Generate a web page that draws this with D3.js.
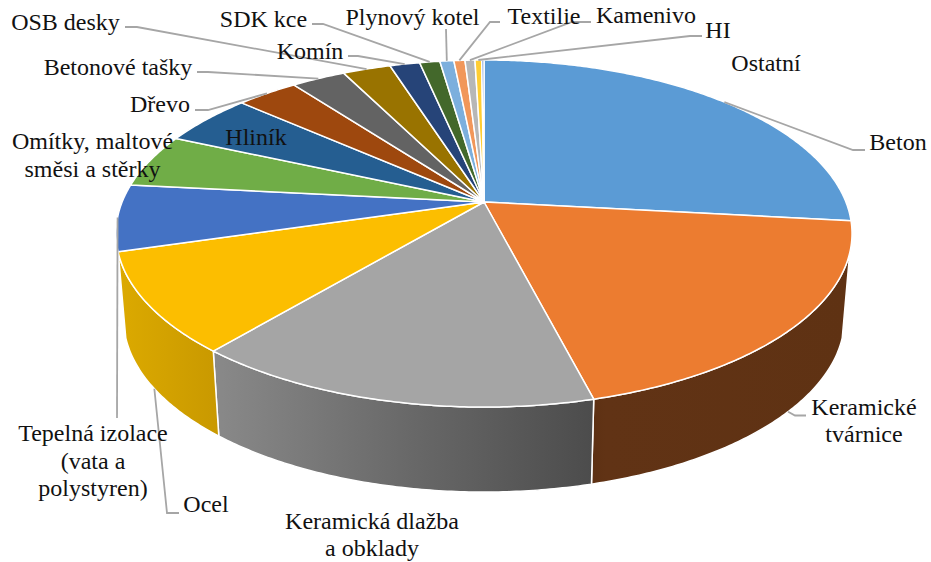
<!DOCTYPE html>
<html>
<head>
<meta charset="utf-8">
<script src="https://cdnjs.cloudflare.com/ajax/libs/d3/7.8.5/d3.min.js"></script>
<style>
    html, body { margin: 0; padding: 0; background: #fff; }
    text { font-family: "Liberation Serif", serif; font-size: 24px; fill: #111; }
</style>
</head>
<body>
<div id="chart"></div>
<script>
var categories = ['Beton', 'Keramické tvárnice', 'Keramická dlažba a obklady', 'Ocel',
    'Tepelná izolace (vata a polystyren)', 'Omítky, maltové směsi a stěrky', 'Hliník', 'Dřevo',
    'Betonové tašky', 'OSB desky', 'Komín', 'SDK kce', 'Plynový kotel', 'Textilie', 'Kamenivo', 'HI', 'Ostatní'];
var values = [26.74, 19.24, 15.16, 9.33, 6.18, 5.01, 4.84, 3.22, 2.84, 2.51, 1.57, 1.06, 0.73, 0.58, 0.52, 0.35, 0.12];
var colors = ['#5b9bd5', '#ec7c30', '#a5a5a5', '#fcbe00', '#4472c4', '#70ad47', '#255e91', '#9e480e',
    '#636363', '#997300', '#264478', '#43682b', '#7cafdd', '#f1975a', '#b7b7b7', '#ffcd33', '#698ed0'];

// label lines, text centre x and baseline y, then the elbow of the leader line
var labelLayout = [
    {lines: ['Beton'], x: 898, y: 150, leader: [[865, 150], [853, 150]]},
    {lines: ['Keramické', 'tvárnice'], x: 864, y: 415, dy: 27, leader: [[806, 415.5], [795, 415.5]]},
    {lines: ['Keramická dlažba', 'a obklady'], x: 372, y: 528.5, dy: 27},
    {lines: ['Ocel'], x: 206, y: 512, leader: [[179, 513], [167, 513]]},
    {lines: ['Tepelná izolace', '(vata a', 'polystyren)'], x: 93, y: 441, dy: 27.7, leader: [[117, 418]]},
    {lines: ['Omítky, maltové', 'směsi a stěrky'], x: 92.5, y: 149, dy: 28},
    {lines: ['Hliník'], x: 256, y: 145},
    {lines: ['Dřevo'], x: 160, y: 112, leader: [[195, 110], [208, 110]]},
    {lines: ['Betonové tašky'], x: 118, y: 75, leader: [[197, 72], [208, 72]]},
    {lines: ['OSB desky'], x: 65.5, y: 30, leader: [[125, 27], [137, 27]]},
    {lines: ['Komín'], x: 310, y: 59, leader: [[348, 56], [358, 56]]},
    {lines: ['SDK kce'], x: 263.5, y: 27, leader: [[312, 24], [323, 24]]},
    {lines: ['Plynový kotel'], x: 412.5, y: 25, leader: [[446, 29]]},
    {lines: ['Textilie'], x: 544, y: 24, leader: [[500, 22], [490, 22]]},
    {lines: ['Kamenivo'], x: 646, y: 23, leader: [[591, 22], [572, 22]]},
    {lines: ['HI'], x: 718, y: 38, leader: [[702, 36], [690, 36]]},
    {lines: ['Ostatní'], x: 766, y: 71}
];

var width = 931, height = 562;
var topX = d3.scaleLinear().domain([-1, 1]).range([484 - 361.9, 484 + 361.9]);
var topY = d3.scaleLinear().domain([-1, 1]).range([202 - 167.8, 202 + 167.8]);
var botX = d3.scaleLinear().domain([-1, 1]).range([484 - 354.5, 484 + 354.5]);
var botY = d3.scaleLinear().domain([-1, 1]).range([287 - 167.8, 287 + 167.8]);
var persp = 0.1816;
var wallFrom = 106.7 * Math.PI / 180, wallTo = 253.3 * Math.PI / 180;

// angle round the disc to screen position, the near edge is drawn larger
function rimTop(a) {
    var w = 1 + persp * Math.cos(a);
    return [topX(Math.sin(a) / w), topY(-Math.cos(a) / w)];
}
function rimBot(a) {
    var w = 1 + persp * Math.cos(a);
    return [botX(Math.sin(a) / w), botY(-Math.cos(a) / w)];
}
function arcAngles(a0, a1) {
    var n = Math.max(2, Math.ceil((a1 - a0) / 0.01));
    return d3.range(n + 1).map(function (i) { return a0 + (a1 - a0) * i / n; });
}

var pie = d3.pie().sort(null).value(function (d) { return d; });
var slices = pie(values);
var line = d3.line();

var svg = d3.select('#chart').append('svg')
    .attr('width', width)
    .attr('height', height)
    .style('display', 'block');

var defs = svg.append('defs');
function wallGradient(id, stops) {
    var x0 = stops[0][0], x1 = stops[stops.length - 1][0];
    var g = defs.append('linearGradient').attr('id', id)
        .attr('gradientUnits', 'userSpaceOnUse')
        .attr('x1', x0).attr('x2', x1).attr('y1', 0).attr('y2', 0);
    stops.forEach(function (s) {
        g.append('stop')
            .attr('offset', (s[0] - x0) / (x1 - x0))
            .attr('stop-color', s[1]);
    });
}
wallGradient('wall1', [[590, '#5c3013'], [605, '#613315'], [850, '#5f3213']]);
wallGradient('wall2', [[210, '#8a8a8a'], [400, '#6a6a6a'], [593, '#4c4c4c']]);
wallGradient('wall3', [[117, '#dcaa00'], [217, '#c99900']]);

// side wall, only the part that faces the viewer
slices.forEach(function (s, i) {
    var a0 = Math.max(s.startAngle, wallFrom), a1 = Math.min(s.endAngle, wallTo);
    if (a1 <= a0) return;
    var angles = arcAngles(a0, a1);
    var pts = angles.map(rimTop).concat(angles.slice().reverse().map(rimBot));
    svg.append('path')
        .attr('d', line(pts) + 'Z')
        .attr('fill', 'url(#wall' + i + ')')
        .attr('stroke', '#fff')
        .attr('stroke-width', 1.5)
        .attr('stroke-linejoin', 'round');
});

// top of the disc
svg.selectAll('path.slice')
    .data(slices)
    .enter().append('path')
    .attr('class', 'slice')
    .attr('d', function (s) {
        return line([[topX(0), topY(0)]].concat(arcAngles(s.startAngle, s.endAngle).map(rimTop))) + 'Z';
    })
    .attr('fill', function (s, i) { return colors[i]; })
    .attr('stroke', '#fff')
    .attr('stroke-width', 1.5)
    .attr('stroke-linejoin', 'round');

// leader lines start at the middle of each slice
labelLayout.forEach(function (l, i) {
    if (!l.leader) return;
    var mid = (slices[i].startAngle + slices[i].endAngle) / 2;
    var onWall = mid > wallFrom && mid < wallTo;
    var end = onWall ? rimBot(mid) : rimTop(mid);
    svg.append('path')
        .attr('d', line(l.leader.concat([end])))
        .attr('fill', 'none')
        .attr('stroke', '#a6a6a6')
        .attr('stroke-width', 1.8);
});

labelLayout.forEach(function (l) {
    var t = svg.append('text').attr('text-anchor', 'middle');
    l.lines.forEach(function (txt, k) {
        t.append('tspan')
            .attr('x', l.x)
            .attr('y', l.y + k * (l.dy || 0))
            .text(txt);
    });
});
</script>
</body>
</html>
